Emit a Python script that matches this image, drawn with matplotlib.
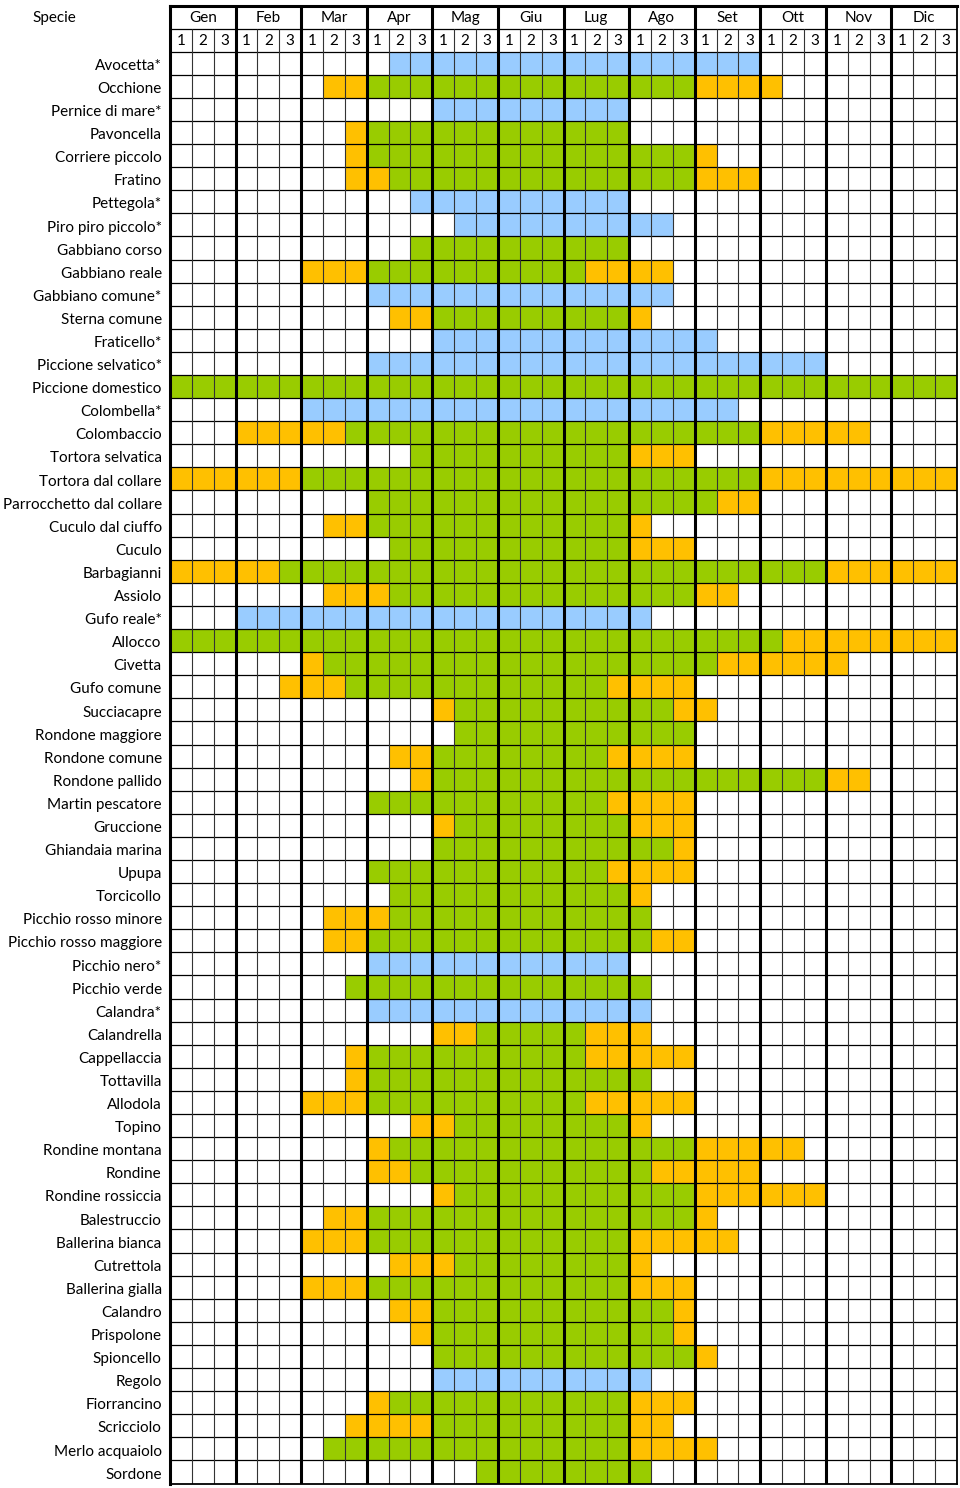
import numpy as np
import matplotlib.pyplot as plt
from matplotlib.colors import ListedColormap
from matplotlib.transforms import blended_transform_factory

plt.rcParams['font.family'] = ['Lato', 'DejaVu Sans']

# Data
months = ['Gen', 'Feb', 'Mar', 'Apr', 'Mag', 'Giu',
          'Lug', 'Ago', 'Set', 'Ott', 'Nov', 'Dic']
decades = ['1', '2', '3']

species = [
    'Avocetta*', 'Occhione', 'Pernice di mare*', 'Pavoncella', 'Corriere piccolo',
    'Fratino', 'Pettegola*', 'Piro piro piccolo*', 'Gabbiano corso', 'Gabbiano reale',
    'Gabbiano comune*', 'Sterna comune', 'Fraticello*', 'Piccione selvatico*',
    'Piccione domestico', 'Colombella*', 'Colombaccio', 'Tortora selvatica',
    'Tortora dal collare', 'Parrocchetto dal collare', 'Cuculo dal ciuffo', 'Cuculo',
    'Barbagianni', 'Assiolo', 'Gufo reale*', 'Allocco', 'Civetta', 'Gufo comune',
    'Succiacapre', 'Rondone maggiore', 'Rondone comune', 'Rondone pallido',
    'Martin pescatore', 'Gruccione', 'Ghiandaia marina', 'Upupa', 'Torcicollo',
    'Picchio rosso minore', 'Picchio rosso maggiore', 'Picchio nero*', 'Picchio verde',
    'Calandra*', 'Calandrella', 'Cappellaccia', 'Tottavilla', 'Allodola', 'Topino',
    'Rondine montana', 'Rondine', 'Rondine rossiccia', 'Balestruccio',
    'Ballerina bianca', 'Cutrettola', 'Ballerina gialla', 'Calandro', 'Prispolone',
    'Spioncello', 'Regolo', 'Fiorrancino', 'Scricciolo', 'Merlo acquaiolo', 'Sordone',
]

# one char per decade: . empty, Y yellow, G green, B blue
presence = [
    "... ... ... .BB BBB BBB BBB BBB BBB ... ... ...",
    "... ... .YY GGG GGG GGG GGG GGG YYY Y.. ... ...",
    "... ... ... ... BBB BBB BBB ... ... ... ... ...",
    "... ... ..Y GGG GGG GGG GGG ... ... ... ... ...",
    "... ... ..Y GGG GGG GGG GGG GGG Y.. ... ... ...",
    "... ... ..Y YGG GGG GGG GGG GGG YYY ... ... ...",
    "... ... ... ..B BBB BBB BBB ... ... ... ... ...",
    "... ... ... ... .BB BBB BBB BB. ... ... ... ...",
    "... ... ... ..G GGG GGG GGG ... ... ... ... ...",
    "... ... YYY GGG GGG GGG GYY YY. ... ... ... ...",
    "... ... ... BBB BBB BBB BBB BB. ... ... ... ...",
    "... ... ... .YY GGG GGG GGG Y.. ... ... ... ...",
    "... ... ... ... BBB BBB BBB BBB B.. ... ... ...",
    "... ... ... BBB BBB BBB BBB BBB BBB BBB ... ...",
    "GGG GGG GGG GGG GGG GGG GGG GGG GGG GGG GGG GGG",
    "... ... BBB BBB BBB BBB BBB BBB BB. ... ... ...",
    "... YYY YYG GGG GGG GGG GGG GGG GGG YYY YY. ...",
    "... ... ... ..G GGG GGG GGG YYY ... ... ... ...",
    "YYY YYY GGG GGG GGG GGG GGG GGG GGG YYY YYY YYY",
    "... ... ... GGG GGG GGG GGG GGG GYY ... ... ...",
    "... ... .YY GGG GGG GGG GGG Y.. ... ... ... ...",
    "... ... ... .GG GGG GGG GGG YYY ... ... ... ...",
    "YYY YYG GGG GGG GGG GGG GGG GGG GGG GGG YYY YYY",
    "... ... .YY YGG GGG GGG GGG GGG YY. ... ... ...",
    "... BBB BBB BBB BBB BBB BBB B.. ... ... ... ...",
    "GGG GGG GGG GGG GGG GGG GGG GGG GGG GYY YYY YYY",
    "... ... YGG GGG GGG GGG GGG GGG GYY YYY Y.. ...",
    "... ..Y YYG GGG GGG GGG GGY YYY ... ... ... ...",
    "... ... ... ... YGG GGG GGG GGY Y.. ... ... ...",
    "... ... ... ... .GG GGG GGG GGG ... ... ... ...",
    "... ... ... .YY GGG GGG GGY YYY ... ... ... ...",
    "... ... ... ..Y GGG GGG GGG GGG GGG GGG YY. ...",
    "... ... ... GGG GGG GGG GGY YYY ... ... ... ...",
    "... ... ... ... YGG GGG GGG YYY ... ... ... ...",
    "... ... ... ... GGG GGG GGG GGY ... ... ... ...",
    "... ... ... GGG GGG GGG GGY YYY ... ... ... ...",
    "... ... ... .GG GGG GGG GGG Y.. ... ... ... ...",
    "... ... .YY YGG GGG GGG GGG G.. ... ... ... ...",
    "... ... .YY GGG GGG GGG GGG GYY ... ... ... ...",
    "... ... ... BBB BBB BBB BBB ... ... ... ... ...",
    "... ... ..G GGG GGG GGG GGG G.. ... ... ... ...",
    "... ... ... BBB BBB BBB BBB B.. ... ... ... ...",
    "... ... ... ... YYG GGG GYY Y.. ... ... ... ...",
    "... ... ..Y GGG GGG GGG GYY YYY ... ... ... ...",
    "... ... ..Y GGG GGG GGG GGG G.. ... ... ... ...",
    "... ... YYY GGG GGG GGG GYY YYY ... ... ... ...",
    "... ... ... ..Y YGG GGG GGG Y.. ... ... ... ...",
    "... ... ... YGG GGG GGG GGG GGG YYY YY. ... ...",
    "... ... ... YYG GGG GGG GGG GYY YYY ... ... ...",
    "... ... ... ... YGG GGG GGG GGG YYY YYY ... ...",
    "... ... .YY GGG GGG GGG GGG GGG Y.. ... ... ...",
    "... ... YYY GGG GGG GGG GGG YYY YY. ... ... ...",
    "... ... ... .YY YGG GGG GGG Y.. ... ... ... ...",
    "... ... YYY GGG GGG GGG GGG YYY ... ... ... ...",
    "... ... ... .YY GGG GGG GGG GGY ... ... ... ...",
    "... ... ... ..Y GGG GGG GGG GGY ... ... ... ...",
    "... ... ... ... GGG GGG GGG GGG Y.. ... ... ...",
    "... ... ... ... BBB BBB BBB B.. ... ... ... ...",
    "... ... ... YGG GGG GGG GGG YYY ... ... ... ...",
    "... ... ..Y YYY GGG GGG GGG YY. ... ... ... ...",
    "... ... .GG GGG GGG GGG GGG YYY Y.. ... ... ...",
    "... ... ... ... ..G GGG GGG G.. ... ... ... ...",
]

codes = '.YGB'
colors = ['white', '#FFC000', '#99CC00', '#99CCFF']

# Build cell matrix: 2 header rows + one row per species
ncol = len(months) * len(decades)
nhead = 2
cells = np.zeros((nhead + len(species), ncol), dtype=int)
for i, row in enumerate(presence):
    cells[nhead + i] = [codes.index(ch) for ch in row.replace(' ', '')]
nrow = cells.shape[0]

fig = plt.figure(figsize=(9.6, 14.88), dpi=100)
ax = fig.add_axes([170 / 960, 1 - 1483.5 / 1488, 787 / 960, 1478 / 1488])
ax.pcolormesh(np.arange(ncol + 1), np.arange(nrow + 1), cells,
              cmap=ListedColormap(colors), vmin=-0.5, vmax=3.5)
ax.set_xlim(0, ncol)
ax.set_ylim(nrow, 0)

# grid lines
ax.hlines(np.arange(1, nrow), 0, ncol, color='black', lw=0.9)
thin = [c for c in range(1, ncol) if c % 3]
ax.vlines(thin, 1, nrow, color='#333333', lw=0.8)
ax.vlines(np.arange(3, ncol, 3), 0, nrow, color='black', lw=2.2)
for side in ['top', 'left']:
    ax.spines[side].set_linewidth(2.2)
for side in ['bottom', 'right']:
    ax.spines[side].set_linewidth(1.3)

# header texts
fs = 11
for m, name in enumerate(months):
    ax.text(m * 3 + 1.5, 0.55, name, ha='center', va='center', fontsize=fs)
    for d, dec in enumerate(decades):
        ax.text(m * 3 + d + 0.5, 1.55, dec, ha='center', va='center', fontsize=fs)

trans = blended_transform_factory(fig.transFigure, ax.transData)
ax.text(32 / 960, 0.55, 'Specie', transform=trans, ha='left', va='center', fontsize=fs)

ax.set_xticks([])
ax.set_yticks(np.arange(len(species)) + nhead + 0.55)
ax.set_yticklabels(species, fontsize=fs)
ax.tick_params(axis='y', length=0, pad=6)

fig.savefig('out.png', dpi=100)
